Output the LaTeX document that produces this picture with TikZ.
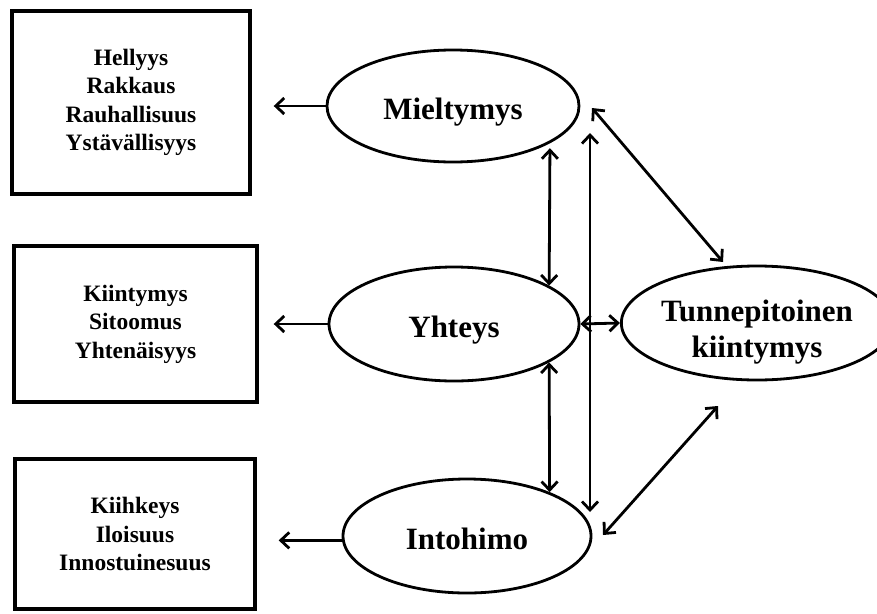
\documentclass[tikz,border=0pt]{standalone}
\usepackage{fontspec}
\setmainfont{Liberation Serif}
\usetikzlibrary{arrows.meta,shapes.geometric,calc}

\tikzset{
  oval/.style={ellipse, draw, line width=2.8pt, inner sep=0pt, align=center,
    text height=26pt, text depth=0pt,
    font=\fontsize{31}{36}\selectfont\bfseries},
  listbox/.style={rectangle, draw, line width=3.4pt, inner sep=0pt, align=center,
    font=\fontsize{23.5}{28.5}\selectfont\bfseries},
  barb/.tip={Straight Barb[length=8.5pt,width=16pt,line width=2.8pt]},
  link/.style={line width=2.8pt, -barb},
  duallink/.style={line width=2.8pt, barb-barb},
}

\begin{document}
\begin{tikzpicture}[x=1pt,y=-1pt]
  \useasboundingbox (0,0) rectangle (877,613);

  % attribute lists
  \node[listbox, minimum width=238pt, minimum height=183pt] (b1) at (131,102.5)
    {Hellyys\\Rakkaus\\Rauhallisuus\\Ystävällisyys};
  \node[listbox, minimum width=243pt, minimum height=156pt] (b2) at (135.5,324)
    {Kiintymys\\Sitoomus\\Yhtenäisyys};
  \node[listbox, minimum width=240pt, minimum height=150pt] (b3) at (135,534)
    {Kiihkeys\\Iloisuus\\Innostuinesuus};

  % components
  \node[oval, minimum width=252pt, minimum height=112pt] (mie) at (453,106) {Mieltymys};
  \node[oval, minimum width=250pt, minimum height=114pt] (yht) at (454,324) {Yhteys};
  \node[oval, minimum width=248pt, minimum height=114pt] (int) at (467,536) {Intohimo};
  \node[oval, text height=68pt, minimum width=240pt, minimum height=114pt] (tun) at (757,323)
    {Tunnepitoinen\\kiintymys};

  % free ends of the long links
  \coordinate (vtop) at (590,133);
  \coordinate (vbot) at (590,512);
  \coordinate (dmA) at (592,108);
  \coordinate (dmB) at (723,262);
  \coordinate (diA) at (603,535);
  \coordinate (diB) at (718,406);

  % components to their lists
  \draw[link, shorten >=22pt] (mie.west) -- (mie.west -| b1.east);
  \draw[link, shorten >=15pt] (yht.west) -- (yht.west -| b2.east);
  \draw[link, shorten >=22pt] (int.182.3) -- (int.182.3 -| b3.east);

  % links between components
  \draw[duallink, shorten <=5pt] (mie.-21.5) -- (yht.22.2);
  \draw[duallink] (yht.-22.2) -- (int.28.6);
  \draw[duallink] (vtop) -- (vbot);
  \draw[duallink] (yht.east) -- (tun.west);
  \draw[duallink] (dmA) -- (dmB);
  \draw[duallink] (diA) -- (diB);
\end{tikzpicture}
\end{document}
